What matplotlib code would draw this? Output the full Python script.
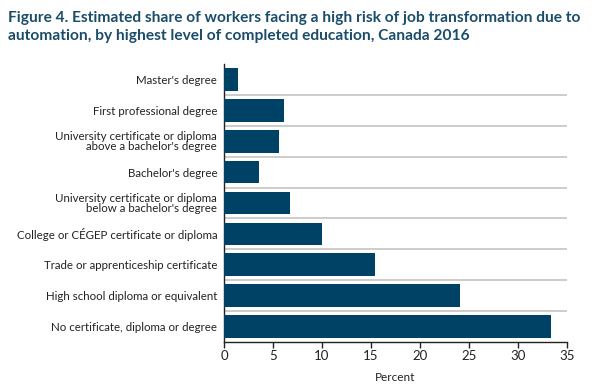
import numpy as np
import matplotlib
matplotlib.use("Agg")
import matplotlib.pyplot as plt

# data
categories = [
    "Master's degree",
    "First professional degree",
    "University certificate or diploma\nabove a bachelor's degree",
    "Bachelor's degree",
    "University certificate or diploma\nbelow a bachelor's degree",
    "College or CÉGEP certificate or diploma",
    "Trade or apprenticeship certificate",
    "High school diploma or equivalent",
    "No certificate, diploma or degree",
]
values = [1.4, 6.1, 5.6, 3.6, 6.7, 10.0, 15.4, 24.1, 33.4]
xticks = [0, 5, 10, 15, 20, 25, 30, 35]

bar_color = "#004266"
title_color = "#1b4d6b"
text_color = "#222222"

plt.rcParams["font.family"] = ["Lato", "DejaVu Sans"]

fig = plt.figure(figsize=(6.09, 3.84), dpi=100)
ax = fig.add_axes([0.368, 0.110, 0.5625, 0.723])

y = np.arange(len(categories))
ax.barh(y, values, height=0.73, color=bar_color, zorder=3)

# separator lines between categories
for b in y[:-1] + 0.5:
    ax.axhline(b, color="#c8c8c8", lw=1.3, zorder=1)

ax.set_ylim(len(categories) - 0.5, -0.5)
ax.set_xlim(0, 35)
ax.set_xticks(xticks)
ax.set_xticklabels([str(t) for t in xticks], fontsize=9.5, color=text_color)
ax.set_yticks(y)
ax.set_yticklabels(categories, fontsize=8.3, color=text_color, linespacing=0.85)
ax.tick_params(axis="y", length=0, pad=5)
ax.tick_params(axis="x", length=4, width=1, color="#222222", pad=2)
ax.set_xlabel("Percent", fontsize=8.5, color=text_color, labelpad=7)

for s in ["top", "right"]:
    ax.spines[s].set_visible(False)
for s in ["left", "bottom"]:
    ax.spines[s].set_color("#222222")
    ax.spines[s].set_linewidth(1)

fig.text(0.013, 0.972,
         "Figure 4. Estimated share of workers facing a high risk of job transformation due to\n"
         "automation, by highest level of completed education, Canada 2016",
         fontsize=11.2, fontweight="bold", color=title_color, va="top", ha="left",
         linespacing=1.35)

fig.savefig("out.png", dpi=100)
